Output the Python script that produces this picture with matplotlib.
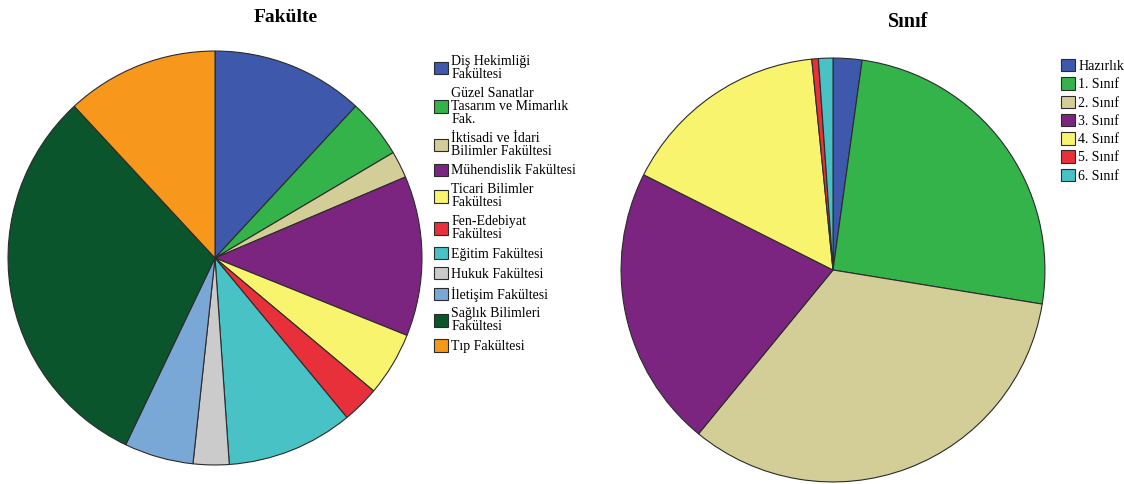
import matplotlib
matplotlib.use("Agg")
import matplotlib.pyplot as plt

fak_labels = ["Diş Hekimliği\nFakültesi", "Güzel Sanatlar\nTasarım ve Mimarlık\nFak.",
              "İktisadi ve İdari\nBilimler Fakültesi", "Mühendislik Fakültesi",
              "Ticari Bilimler\nFakültesi", "Fen-Edebiyat\nFakültesi", "Eğitim Fakültesi",
              "Hukuk Fakültesi", "İletişim Fakültesi", "Sağlık Bilimleri\nFakültesi",
              "Tıp Fakültesi"]
fak_values = [11.9, 4.6, 2.1, 12.5, 5.0, 2.9, 9.9, 2.8, 5.4, 31.0, 11.9]
fak_colors = ["#3E58AC", "#33B34A", "#D3CE97", "#7B2580", "#F9F46E", "#E8303A",
              "#48C2C5", "#CBCBCB", "#7AA8D6", "#0A552C", "#F7981D"]

sinif_labels = ["Hazırlık", "1. Sınıf", "2. Sınıf", "3. Sınıf", "4. Sınıf", "5. Sınıf", "6. Sınıf"]
sinif_values = [2.2, 25.4, 33.4, 21.5, 16.0, 0.5, 1.1]
sinif_colors = ["#3E58AC", "#33B34A", "#D3CE97", "#7B2580", "#F9F46E", "#E8303A", "#48C2C5"]

W, H = 1124, 484
fig = plt.figure(figsize=(W / 100, H / 100), dpi=100)
fig.patch.set_facecolor("white")

serif = ["Liberation Serif", "DejaVu Serif"]

def px_axes(cx, cy, r):
    return fig.add_axes([(cx - r) / W, (H - cy - r) / H, 2 * r / W, 2 * r / H])

wedge_kw = dict(edgecolor="#2b2b2b", linewidth=0.8)

ax1 = px_axes(215, 258, 208)
w1, _ = ax1.pie(fak_values, colors=fak_colors, startangle=90, counterclock=False,
                wedgeprops=wedge_kw)
ax1.set_xlim(-1.005, 1.005)
ax1.set_ylim(-1.005, 1.005)
ax1.set_aspect("equal")
ax1.axis("off")

ax2 = px_axes(833, 270, 213)
w2, _ = ax2.pie(sinif_values, colors=sinif_colors, startangle=90, counterclock=False,
                wedgeprops=wedge_kw)
ax2.set_xlim(-1.005, 1.005)
ax2.set_ylim(-1.005, 1.005)
ax2.set_aspect("equal")
ax2.axis("off")

fig.text(286 / W, 1 - 17 / H, "Fakülte", ha="center", va="center",
         fontsize=14, fontweight="bold", family=serif)
fig.text(908 / W, 1 - 22 / H, "Sınıf", ha="center", va="center",
         fontsize=14.5, fontweight="bold", family=serif)

base_kw = dict(frameon=False, prop={"family": serif, "size": 10}, handlelength=1.0,
               handleheight=1.0, handletextpad=0.25, borderpad=0, borderaxespad=0)
lg1 = fig.legend(w1, fak_labels, loc="upper left", bbox_to_anchor=(434 / W, 1 - 55 / H),
                 labelspacing=0.42, **base_kw)
lg2 = fig.legend(w2, sinif_labels, loc="upper left", bbox_to_anchor=(1061 / W, 1 - 59 / H),
                 labelspacing=0.31, **base_kw)
for lg in (lg1, lg2):
    for t in lg.get_texts():
        t.set_linespacing(1.0)

fig.savefig("out.png", dpi=100, facecolor="white")
